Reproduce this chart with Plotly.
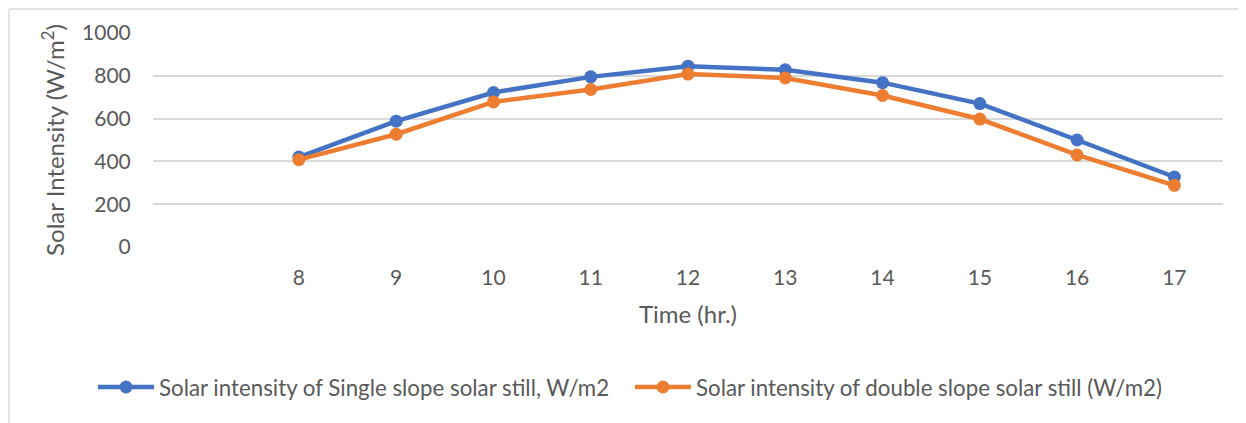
import plotly.graph_objects as go

hours = [8, 9, 10, 11, 12, 13, 14, 15, 16, 17]
single_slope = [420, 588, 722, 795, 845, 828, 768, 670, 500, 327]
double_slope = [408, 527, 678, 736, 808, 790, 708, 598, 430, 288]
y_ticks = [0, 200, 400, 600, 800, 1000]

name_single = "Solar intensity of Single slope solar still, W/m2"
name_double = "Solar intensity of double slope solar still (W/m2)"

FONT = "Lato"
TXT = "#595959"
OFF = 8  # page body margin
W, H = 1246 - OFF, 423 - OFF
# plot area in page coordinates
L, R, T, B = 153 - OFF, 1223 - OFF, 33 - OFF, 247 - OFF

fig = go.Figure()
fig.add_trace(go.Scatter(x=hours, y=single_slope, mode="lines+markers", name=name_single,
                         line=dict(color="#4472C4", width=4.5),
                         marker=dict(color="#4472C4", size=13)))
fig.add_trace(go.Scatter(x=hours, y=double_slope, mode="lines+markers", name=name_double,
                         line=dict(color="#ED7D31", width=4.5),
                         marker=dict(color="#ED7D31", size=13)))

pw = R - L
ph = B - T
def px(x):
    return (x - OFF - L) / pw
def py(y):
    return (B - (y - OFF)) / ph

fig.update_layout(
    width=W, height=H,
    margin=dict(l=L, r=W - R, t=T, b=H - B),
    paper_bgcolor="white", plot_bgcolor="white",
    font=dict(family=FONT, color=TXT, size=21),
    showlegend=True,
    legend=dict(orientation="h", x=px(93), xanchor="left", y=py(387), yanchor="middle",
                font=dict(size=22.3, color=TXT), entrywidth=466, entrywidthmode="pixels",
                itemwidth=56, bgcolor="rgba(0,0,0,0)", tracegroupgap=0),
    xaxis=dict(range=[6.5, 17.5], tickvals=hours, ticktext=[str(h) for h in hours],
               showgrid=False, zeroline=False, showline=False,
               ticks="outside", ticklen=12, tickcolor="rgba(0,0,0,0)",
               tickfont=dict(size=21, color=TXT),
               title=dict(text="Time (hr.)", font=dict(size=24, color=TXT), standoff=17)),
    yaxis=dict(range=[0, 1000], tickvals=y_ticks, showgrid=True, gridcolor="#D9D9D9",
               gridwidth=1.5, zeroline=False, showline=False,
               ticks="outside", ticklen=17, tickcolor="rgba(0,0,0,0)",
               tickfont=dict(size=21, color=TXT),
               title=dict(text="Solar Intensity (W/m<sup>2</sup>)", font=dict(size=24, color=TXT),
                          standoff=10)),
    shapes=[
        dict(type="line", xref="paper", yref="paper", x0=px(9), x1=px(9), y0=py(9), y1=py(430),
             line=dict(color="#D9D9D9", width=1.5)),
        dict(type="line", xref="paper", yref="paper", x0=px(9), x1=px(1250), y0=py(9), y1=py(9),
             line=dict(color="#D9D9D9", width=1.5)),
    ],
)

fig.write_html("out.html")
